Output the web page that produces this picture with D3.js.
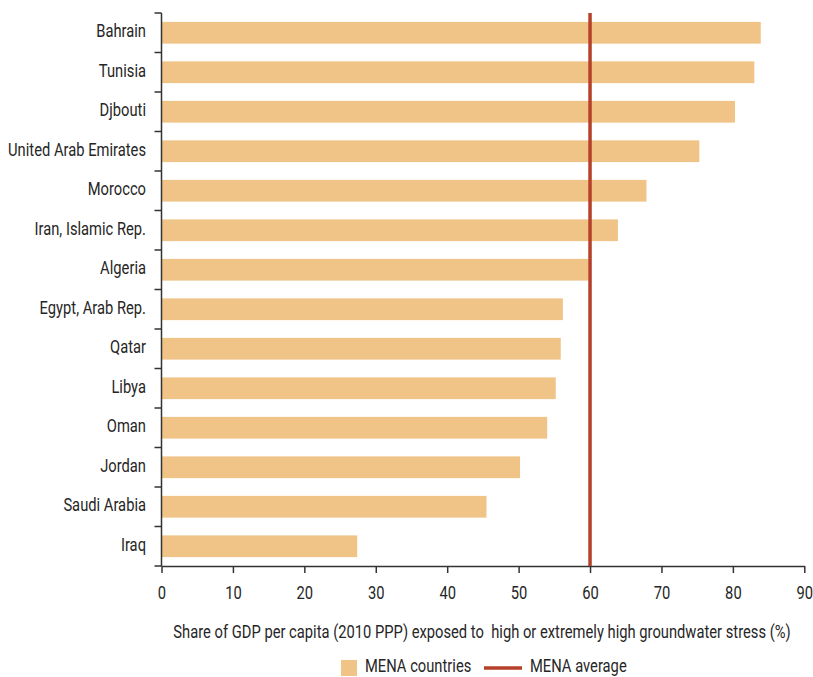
<!DOCTYPE html>
<html><head><meta charset="utf-8">
<script src="https://cdn.jsdelivr.net/npm/d3@7"></script>
<style>
body{margin:0;background:#fff;}
text{font-family:Roboto,"Liberation Sans",sans-serif;fill:#262626;}
</style></head>
<body><svg id="c" width="813" height="677"></svg>
<script>
const countries = ["Bahrain","Tunisia","Djbouti","United Arab Emirates","Morocco","Iran, Islamic Rep.","Algeria","Egypt, Arab Rep.","Qatar","Libya","Oman","Jordan","Saudi Arabia","Iraq"];
const values = [83.9,83.0,80.3,75.3,67.9,63.9,59.8,56.2,55.9,55.2,54.0,50.2,45.5,27.4];
const menaAverage = 60.0;
const xTicks = [0,10,20,30,40,50,60,70,80,90];
const xTitle = "Share of GDP per capita (2010 PPP) exposed to  high or extremely high groundwater stress (%)";
const legendLabels = ["MENA countries","MENA average"];

(function(){
const barColor = "#F0C387", lineColor = "#B5412B", axisColor = "#333";
const FS = 18.5;
const svg = d3.select("#c");
const mL = 161.5, mR = 804.3, mT = 13, mB = 566;

const probe = svg.append("text").attr("font-size",FS).text("United Arab Emirates");
const sx = 138 / probe.node().getComputedTextLength();
probe.remove();

function label(parent, x, y, str, anchor){
  const g = parent.append("g").attr("transform",`translate(${x},${y}) scale(${sx},1)`);
  g.append("text").attr("font-size",FS).attr("text-anchor",anchor||"start").style("white-space","pre").text(str);
  return g;
}

const x = d3.scaleLinear().domain([0,90]).range([mL,mR]);
const y = d3.scaleBand().domain(countries).range([mT,mB]).paddingInner(0.45).paddingOuter(0.225);
const yb = d3.scaleBand().domain(countries).range([mT,mB]);

svg.append("g").selectAll("rect").data(countries).join("rect")
  .attr("x", x(0)).attr("y", d=>y(d))
  .attr("width", (d,i)=>x(values[i])-x(0)).attr("height", y.bandwidth())
  .attr("fill", barColor);

const yAxis = svg.append("g");
yAxis.append("line").attr("x1",mL).attr("x2",mL).attr("y1",mT).attr("y2",mB)
  .attr("stroke",axisColor).attr("stroke-width",1.5);
const bounds = countries.map(d=>yb(d)).concat([mB]);
yAxis.selectAll("line.t").data(bounds).join("line").attr("class","t")
  .attr("x1",mL-7).attr("x2",mL).attr("y1",d=>d).attr("y2",d=>d)
  .attr("stroke",axisColor).attr("stroke-width",1.5);
countries.forEach(c=>label(yAxis, 146, yb(c)+yb.bandwidth()/2+4.5, c, "end"));

const xg = svg.append("g").attr("transform",`translate(0,${mB})`)
  .call(d3.axisBottom(x).tickValues(xTicks).tickSize(7).tickSizeOuter(0).tickPadding(7));
xg.select(".domain").attr("stroke",axisColor).attr("stroke-width",1.5);
xg.selectAll(".tick line").attr("stroke",axisColor).attr("stroke-width",1.5);
xg.selectAll(".tick text").attr("font-size",FS).attr("fill","#262626")
  .attr("dy",null).attr("y",33).attr("transform",`scale(${sx},1)`)
  .style("font-family",'Roboto,sans-serif');

svg.append("line").attr("x1",x(menaAverage)).attr("x2",x(menaAverage))
  .attr("y1",mT).attr("y2",mB).attr("stroke",lineColor).attr("stroke-width",3.5);

label(svg, 482, 638, xTitle, "middle");

const lg = svg.append("g");
lg.append("rect").attr("x",341).attr("y",660).attr("width",16).attr("height",16).attr("fill",barColor);
label(lg, 365, 672, legendLabels[0]);
lg.append("line").attr("x1",484).attr("x2",522).attr("y1",668).attr("y2",668).attr("stroke",lineColor).attr("stroke-width",3.5);
label(lg, 530, 672, legendLabels[1]);
})();
</script></body></html>
